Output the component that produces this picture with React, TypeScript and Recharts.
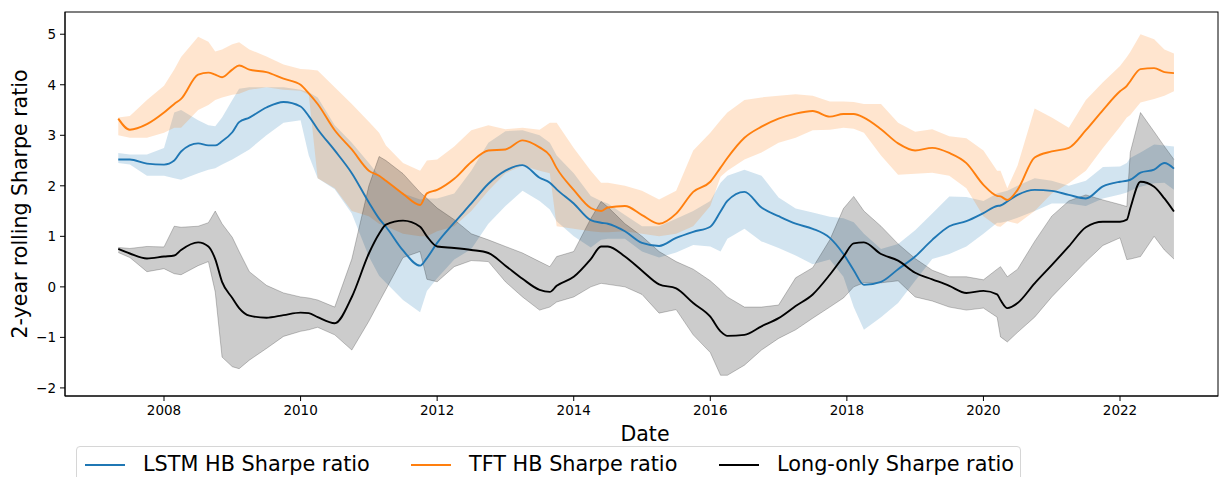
import { ComposedChart, Area, Line, XAxis, YAxis } from "recharts";

const dates = [
  2007.33, 2007.5, 2007.75, 2008.0, 2008.15, 2008.25, 2008.5, 2008.65, 2008.75, 2008.85,
  2009.0, 2009.1, 2009.25, 2009.5, 2009.75, 2010.0, 2010.12, 2010.25, 2010.5, 2010.75,
  2011.0, 2011.15, 2011.25, 2011.5, 2011.75, 2011.85, 2012.0, 2012.25, 2012.5, 2012.75,
  2013.0, 2013.25, 2013.5, 2013.65, 2013.75, 2014.0, 2014.25, 2014.4, 2014.5, 2014.75,
  2015.0, 2015.25, 2015.5, 2015.75, 2016.0, 2016.15, 2016.25, 2016.5, 2016.75, 2017.0,
  2017.25, 2017.5, 2017.75, 2017.95, 2018.1, 2018.25, 2018.5, 2018.75, 2019.0, 2019.25,
  2019.5, 2019.75, 2020.0, 2020.2, 2020.25, 2020.35, 2020.5, 2020.75, 2021.0, 2021.25,
  2021.5, 2021.75, 2022.0, 2022.1, 2022.15, 2022.3, 2022.5, 2022.65, 2022.79,
];

// LSTM HB
const lstmMean = [
  2.52, 2.52, 2.44, 2.42, 2.5, 2.68, 2.84, 2.8, 2.8, 2.88,
  3.06, 3.26, 3.35, 3.55, 3.66, 3.57, 3.38, 3.12, 2.7, 2.25,
  1.67, 1.35, 1.19, 0.72, 0.42, 0.57, 0.87, 1.27, 1.65, 2.04,
  2.3, 2.41, 2.16, 2.06, 1.93, 1.65, 1.32, 1.27, 1.25, 1.1,
  0.87, 0.81, 0.97, 1.09, 1.19, 1.49, 1.7, 1.88, 1.57, 1.4,
  1.25, 1.15, 0.97, 0.65, 0.33, 0.04, 0.1, 0.35, 0.6, 0.93,
  1.2, 1.3, 1.46, 1.6, 1.61, 1.69, 1.82, 1.92, 1.9, 1.82,
  1.75, 1.99, 2.08, 2.1, 2.12, 2.26, 2.32, 2.45, 2.34,
];
const lstmLow = [
  2.45, 2.42, 2.2, 2.2, 2.15, 2.12, 2.25, 2.32, 2.35, 2.42,
  2.52, 2.6, 2.72, 3.0, 3.25, 3.3, 2.6, 2.15, 1.93, 1.45,
  0.6, 0.22, 0.08, -0.26, -0.5, -0.08, 0.17, 0.54, 0.75, 1.25,
  1.6, 1.9, 1.7, 1.53, 1.3, 1.0, 0.78, 0.93, 0.95, 0.95,
  0.7, 0.58, 0.68, 0.83, 0.8, 0.7, 0.95, 1.15, 0.9, 0.77,
  0.62, 0.45, 0.54, 0.2, -0.4, -0.85, -0.6, -0.32, 0.12, 0.55,
  0.65, 0.8, 1.05, 1.27, 1.27, 1.3, 1.37, 1.5, 1.65, 1.65,
  1.6, 1.75, 1.83, 1.87, 1.9, 1.98, 2.05, 2.06, 1.92,
];
const lstmHigh = [
  2.65, 2.62, 2.62, 2.75, 3.45, 3.5, 3.3, 3.2, 3.18, 3.35,
  3.7, 3.92, 3.95, 3.95, 3.95, 3.9, 3.85, 3.75, 3.2, 2.85,
  2.45, 2.2, 2.1, 1.85, 1.73, 1.75, 1.75, 1.85, 2.3, 2.85,
  3.08, 3.1, 3.0, 2.85, 2.6, 2.25, 1.8, 1.7, 1.65, 1.42,
  1.2, 1.2, 1.35, 1.5, 1.7, 2.06, 2.2, 2.32, 2.2, 1.77,
  1.55, 1.47, 1.39, 1.36, 1.28, 1.05, 0.75, 0.85, 1.12, 1.45,
  1.79, 1.78, 1.7, 1.85, 1.87, 1.9, 2.0, 2.15, 2.1, 2.0,
  2.1, 2.37, 2.38, 2.45, 2.55, 2.66, 2.82, 2.8, 2.78,
];

// TFT HB
const tftMean = [
  3.33, 3.11, 3.22, 3.45, 3.62, 3.72, 4.2, 4.24, 4.2, 4.15,
  4.3, 4.38, 4.3, 4.25, 4.12, 4.0, 3.83, 3.62, 3.1, 2.72,
  2.3, 2.2, 2.1, 1.84, 1.62, 1.85, 1.92, 2.14, 2.47, 2.7,
  2.72, 2.9, 2.76, 2.6, 2.35, 1.92, 1.56, 1.5, 1.57, 1.6,
  1.42, 1.25, 1.45, 1.88, 2.08, 2.36, 2.55, 2.95, 3.17, 3.33,
  3.43, 3.48, 3.37, 3.42, 3.42, 3.35, 3.12, 2.84, 2.7, 2.75,
  2.65, 2.45, 2.02, 1.8, 1.79, 1.72, 1.92, 2.56, 2.68, 2.75,
  3.1, 3.5, 3.87, 3.98, 4.07, 4.31, 4.33, 4.25, 4.23,
];
const tftLow = [
  3.0, 2.95, 2.95, 3.05, 3.15, 3.15, 3.5, 3.6, 3.7, 3.75,
  3.8, 3.82, 3.9, 3.95, 3.9, 3.88, 3.8, 2.15, 1.95, 1.5,
  1.4, 1.25, 1.2, 1.05, 1.0, 1.0, 1.1, 1.2, 1.5, 1.9,
  2.25, 2.4, 2.3, 2.25, 1.2, 1.15, 1.1, 1.08, 1.08, 1.1,
  1.05, 1.0, 1.05, 1.2, 1.6, 2.18, 2.3, 2.52, 2.66, 2.85,
  2.95, 3.1, 3.11, 3.15, 3.13, 3.05, 2.6, 2.22, 2.24, 2.26,
  2.2, 1.95, 1.4, 1.2, 1.19, 1.3, 1.25, 1.5, 1.85, 2.05,
  2.3, 2.75, 3.17, 3.35, 3.4, 3.65, 3.72, 3.78, 3.87,
];
const tftHigh = [
  3.35, 3.38, 3.7, 3.98, 4.3, 4.55, 4.95, 4.85, 4.66, 4.7,
  4.8, 4.84, 4.7, 4.56, 4.4, 4.31, 4.3, 4.28, 3.95, 3.62,
  3.27, 3.05, 2.8, 2.45, 2.3, 2.5, 2.52, 2.78, 3.1, 3.2,
  3.12, 3.15, 3.11, 3.25, 3.25, 2.75, 2.3, 2.06, 2.06, 2.0,
  1.9, 1.73, 1.9, 2.7, 3.05, 3.3, 3.45, 3.7, 3.75, 3.78,
  3.81, 3.78, 3.67, 3.67, 3.66, 3.62, 3.62, 3.25, 3.07, 3.12,
  2.98, 2.94, 2.7, 2.3, 2.3, 1.95, 2.4, 3.53, 3.35, 3.15,
  3.7, 4.05, 4.37, 4.55, 4.65, 5.0, 4.9, 4.7, 4.62,
];

// Long-only
const longMean = [
  0.75, 0.66, 0.56, 0.6, 0.62, 0.73, 0.88, 0.8, 0.55, 0.1,
  -0.22, -0.42, -0.57, -0.61, -0.56, -0.51, -0.52, -0.6, -0.72, -0.2,
  0.66, 1.05, 1.23, 1.31, 1.19, 1.0, 0.8, 0.77, 0.73, 0.67,
  0.42, 0.16, -0.06, -0.1, 0.02, 0.2, 0.55, 0.8, 0.8, 0.6,
  0.32, 0.05, -0.03, -0.32, -0.59, -0.88, -0.97, -0.95, -0.78, -0.62,
  -0.38, -0.15, 0.24, 0.6, 0.86, 0.88, 0.65, 0.52, 0.28, 0.15,
  0.02, -0.12, -0.08, -0.15, -0.26, -0.42, -0.32, 0.07, 0.43, 0.8,
  1.18, 1.29, 1.29, 1.33, 1.55, 2.08, 1.98, 1.75, 1.49,
];
const longLow = [
  0.68, 0.58, 0.3, 0.36, 0.26, 0.24, 0.42, 0.5, -0.1, -1.39,
  -1.58, -1.62, -1.45, -1.22, -0.98, -0.88, -0.85, -0.8, -0.95, -1.25,
  -0.68, -0.3, -0.05, 0.58, 0.7, 0.15, 0.1, 0.4, 0.52, 0.5,
  0.1, -0.2, -0.46, -0.4, -0.3, -0.2, 0.0, 0.07, 0.05, 0.0,
  -0.15, -0.52, -0.45, -0.95, -1.3, -1.75, -1.75, -1.55, -1.25, -1.02,
  -0.85, -0.62, -0.4, -0.22, 0.0, 0.08, 0.08, 0.12, -0.2, -0.28,
  -0.4, -0.46, -0.42, -0.6, -0.99, -1.09, -0.9, -0.6, -0.2, 0.15,
  0.5, 0.82, 0.97, 0.54, 0.55, 0.6, 1.0, 0.73, 0.55,
];
const longHigh = [
  0.78, 0.76, 0.8, 0.79, 1.2, 1.18, 1.2, 1.27, 1.5, 1.25,
  0.98, 0.7, 0.3, 0.03, -0.12, -0.2, -0.22, -0.26, -0.4, 0.55,
  2.0, 2.58, 2.5, 2.24, 1.87, 1.75, 1.56, 1.33, 1.05, 0.93,
  0.8, 0.67, 0.5, 0.4, 0.6, 0.7, 1.35, 1.69, 1.58, 1.25,
  1.0, 0.7, 0.5, 0.35, 0.12, -0.06, -0.2, -0.4, -0.4, -0.36,
  0.18, 0.38, 0.93, 1.55, 1.79, 1.5, 1.2, 0.85, 0.56, 0.33,
  0.2, 0.2, 0.14, 0.35, 0.4, 0.2, 0.35, 0.9, 1.4, 1.7,
  1.82, 1.72, 1.63, 1.59, 2.66, 3.45, 3.07, 2.78, 2.52,
];

const xTicks = [2008, 2010, 2012, 2014, 2016, 2018, 2020, 2022];
const yTicks = [-2, -1, 0, 1, 2, 3, 4, 5];

const BLUE = "#1f77b4";
const ORANGE = "#ff7f0e";
const FONT = "'DejaVu Sans', sans-serif";

const data = dates.map((date, i) => ({
  date,
  lstm: lstmMean[i],
  lstmBand: [lstmLow[i], lstmHigh[i]],
  tft: tftMean[i],
  tftBand: [tftLow[i], tftHigh[i]],
  long: longMean[i],
  longBand: [longLow[i], longHigh[i]],
}));

const xDomain = [2006.55, 2023.435];
const yDomain = [-2.16, 5.44];

const tickStyle = { fontSize: 13.5, fill: "#000", fontFamily: FONT };

const legendItems = [
  { label: "LSTM HB Sharpe ratio", color: BLUE, left: 8 },
  { label: "TFT HB Sharpe ratio", color: ORANGE, left: 334 },
  { label: "Long-only Sharpe ratio", color: "#000", left: 642 },
];

export default function App() {
  return (
    <div
      style={{
        position: "absolute",
        left: 0,
        top: 0,
        width: 1219,
        height: 477,
        overflow: "hidden",
        background: "#fff",
        fontFamily: FONT,
      }}
    >
      <ComposedChart
        width={1219}
        height={477}
        data={data}
        margin={{ top: 12, right: 1, left: 0, bottom: 51 }}
      >
        <XAxis
          dataKey="date"
          type="number"
          domain={xDomain}
          ticks={xTicks}
          allowDataOverflow
          tick={tickStyle}
          tickSize={5}
          tickMargin={4}
          stroke="#000"
          height={30}
        />
        <YAxis
          type="number"
          domain={yDomain}
          ticks={yTicks}
          allowDataOverflow
          tick={tickStyle}
          tickSize={5}
          tickMargin={4}
          tickFormatter={(v) => (v < 0 ? "\u2212" + Math.abs(v) : String(v))}
          stroke="#000"
          width={65}
        />

        <Area
          type="linear"
          dataKey="lstmBand"
          stroke="none"
          fill={BLUE}
          fillOpacity={0.2}
          isAnimationActive={false}
        />
        <Area
          type="linear"
          dataKey="tftBand"
          stroke="none"
          fill={ORANGE}
          fillOpacity={0.2}
          isAnimationActive={false}
        />
        <Area
          type="linear"
          dataKey="longBand"
          stroke="#000"
          strokeOpacity={0.22}
          strokeWidth={1}
          fill="#000"
          fillOpacity={0.2}
          isAnimationActive={false}
        />

        <Line
          type="monotoneX"
          dataKey="lstm"
          stroke={BLUE}
          strokeWidth={1.9}
          dot={false}
          activeDot={false}
          isAnimationActive={false}
        />
        <Line
          type="monotoneX"
          dataKey="tft"
          stroke={ORANGE}
          strokeWidth={1.9}
          dot={false}
          activeDot={false}
          isAnimationActive={false}
        />
        <Line
          type="monotoneX"
          dataKey="long"
          stroke="#000"
          strokeWidth={1.9}
          dot={false}
          activeDot={false}
          isAnimationActive={false}
        />
      </ComposedChart>

      {/* top and right spines */}
      <svg
        width={1219}
        height={477}
        style={{ position: "absolute", left: 0, top: 0, pointerEvents: "none" }}
      >
        <rect x={65} y={12} width={1153} height={384} fill="none" stroke="#000" strokeWidth={1} />
      </svg>

      <div
        style={{
          position: "absolute",
          left: 20,
          top: 204,
          transform: "translate(-50%, -50%) rotate(-90deg)",
          fontSize: 20.5,
          whiteSpace: "nowrap",
          color: "#000",
        }}
      >
        2-year rolling Sharpe ratio
      </div>

      <div
        style={{
          position: "absolute",
          left: 645,
          top: 434,
          transform: "translate(-50%, -50%)",
          fontSize: 20.5,
          color: "#000",
        }}
      >
        Date
      </div>

      <div
        style={{
          position: "absolute",
          left: 76,
          top: 446,
          width: 945,
          height: 44,
          border: "1px solid #d6d6d6",
          borderRadius: 4,
          background: "rgba(255,255,255,0.8)",
          boxSizing: "border-box",
        }}
      >
        {legendItems.map((item) => (
          <div key={item.label}>
            <div
              style={{
                position: "absolute",
                left: item.left,
                top: 17,
                width: 40,
                height: 2,
                background: item.color,
              }}
            />
            <div
              style={{
                position: "absolute",
                left: item.left + 58,
                top: 5,
                fontSize: 20.8,
                lineHeight: "24px",
                whiteSpace: "nowrap",
                color: "#000",
              }}
            >
              {item.label}
            </div>
          </div>
        ))}
      </div>
    </div>
  );
}
